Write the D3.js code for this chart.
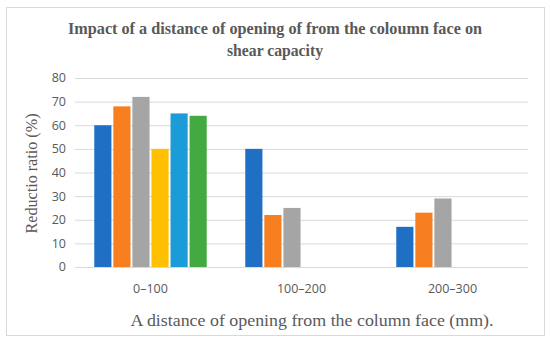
<!DOCTYPE html>
<html>
<head>
<meta charset="utf-8">
<script src="https://cdn.jsdelivr.net/npm/d3@7.9.0/dist/d3.min.js"></script>
<style>
  body { margin: 0; background: #fff; }
  svg { display: block; }
</style>
</head>
<body>
<svg id="chart" width="550" height="341"></svg>
<script>
const categories = ['0–100', '100–200', '200–300'];
const seriesNames = ['S1', 'S2', 'S3', 'S4', 'S5', 'S6'];
// one array per series, value per category (null = no bar)
const s1 = [60, 50, 17];
const s2 = [68, 22, 23];
const s3 = [72, 25, 29];
const s4 = [50, null, null];
const s5 = [65, null, null];
const s6 = [64, null, null];
const yTicks = [0, 10, 20, 30, 40, 50, 60, 70, 80];
const colors = ['#1f6fc4', '#f77f1f', '#a5a5a5', '#ffc000', '#1b9bd8', '#43aa41'];

const allSeries = [s1, s2, s3, s4, s5, s6];

const svg = d3.select('#chart');
const margin = { left: 75, right: 22, top: 78, bottom: 74 };
const W = 550, H = 341;
const serif = 'Liberation Serif, serif';

// outer frame
svg.append('rect')
  .attr('x', 6.5).attr('y', 7.5)
  .attr('width', 538).attr('height', 328)
  .attr('fill', '#fff').attr('stroke', '#d9d9d9');

const x0 = d3.scaleBand()
  .domain(categories)
  .range([margin.left, W - margin.right])
  .paddingInner(0.23).paddingOuter(0.115);

const x1 = d3.scaleBand()
  .domain(seriesNames)
  .range([0, x0.bandwidth()])
  .padding(0.1);

const y = d3.scaleLinear()
  .domain([0, 80])
  .range([H - margin.bottom, margin.top]);

// gridlines
svg.append('g')
  .selectAll('line')
  .data(yTicks)
  .join('line')
  .attr('x1', margin.left).attr('x2', W - margin.right)
  .attr('y1', d => y(d) + 0.5).attr('y2', d => y(d) + 0.5)
  .attr('stroke', '#d9d9d9').attr('stroke-width', 1);

// y tick labels
svg.append('g')
  .selectAll('text')
  .data(yTicks)
  .join('text')
  .attr('x', 66).attr('y', d => y(d))
  .attr('dy', '0.35em')
  .attr('text-anchor', 'end')
  .attr('font-family', 'Open Sans, sans-serif')
  .attr('font-size', 12.5)
  .attr('fill', '#595959')
  .text(d => d);

// bars
const groups = svg.append('g')
  .selectAll('g')
  .data(categories)
  .join('g')
  .attr('transform', d => `translate(${x0(d)},0)`);

groups.selectAll('rect')
  .data((c, ci) => seriesNames.map((s, si) => ({ s, si, v: allSeries[si][ci] })).filter(d => d.v != null))
  .join('rect')
  .attr('x', d => x1(d.s))
  .attr('y', d => y(d.v))
  .attr('width', x1.bandwidth())
  .attr('height', d => y(0) - y(d.v))
  .attr('fill', d => colors[d.si]);

// x tick labels
svg.append('g')
  .selectAll('text')
  .data(categories)
  .join('text')
  .attr('x', d => x0(d) + x0.bandwidth() / 2)
  .attr('y', 293)
  .attr('text-anchor', 'middle')
  .attr('font-family', 'Open Sans, sans-serif')
  .attr('font-size', 12.5)
  .attr('fill', '#595959')
  .text(d => d);

// title
const title = svg.append('text')
  .attr('text-anchor', 'middle')
  .attr('font-family', serif)
  .attr('font-weight', 'bold')
  .attr('font-size', 16)
  .attr('fill', '#595959');
title.append('tspan').attr('x', 275).attr('y', 34)
  .attr('textLength', 414).attr('lengthAdjust', 'spacingAndGlyphs')
  .text('Impact of a distance of opening of from the coloumn face on');
title.append('tspan').attr('x', 275).attr('y', 56)
  .attr('textLength', 96).attr('lengthAdjust', 'spacingAndGlyphs')
  .text('shear capacity');

// axis titles
svg.append('text')
  .attr('x', 312).attr('y', 326)
  .attr('text-anchor', 'middle')
  .attr('font-family', serif)
  .attr('font-size', 16.5)
  .attr('fill', '#595959')
  .attr('textLength', 363).attr('lengthAdjust', 'spacingAndGlyphs')
  .text('A distance of opening from the column face (mm).');

svg.append('text')
  .attr('transform', `translate(37,${(y(0) + y(80)) / 2 + 1}) rotate(-90)`)
  .attr('text-anchor', 'middle')
  .attr('font-family', serif)
  .attr('font-size', 16.5)
  .attr('fill', '#595959')
  .attr('textLength', 120).attr('lengthAdjust', 'spacingAndGlyphs')
  .text('Reductio ratio (%)');
</script>
</body>
</html>
